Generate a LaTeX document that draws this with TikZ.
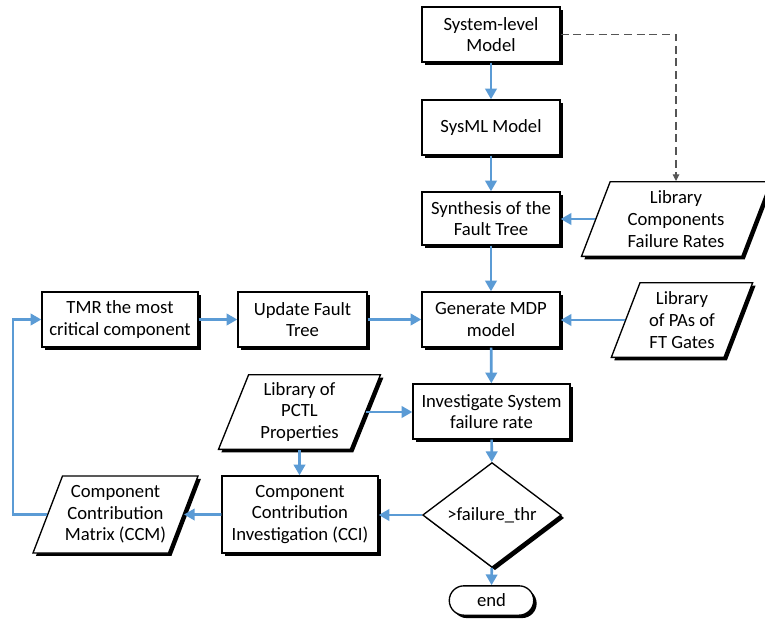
\documentclass[tikz,border=0pt]{standalone}
\usepackage{fontspec}
\setmainfont{Carlito}
\usetikzlibrary{shapes.geometric,shapes.misc,shadows,arrows.meta}
\definecolor{flowblue}{RGB}{91,155,213}
\definecolor{dashgray}{RGB}{85,85,85}

\begin{document}
\begin{tikzpicture}[x=0.75pt,y=-0.75pt,
		font=\fontsize{14}{16.2}\selectfont,
		boxshadow/.style={drop shadow={shadow xshift=2.2pt,shadow yshift=-2.2pt,fill=black,opacity=1}},
		proc/.style={rectangle,draw,line width=1pt,fill=white,boxshadow,align=center,inner sep=1pt,minimum height=41.25pt},
		data/.style={trapezium,trapezium left angle=63,trapezium right angle=117,trapezium stretches body,
			draw,line width=1pt,fill=white,boxshadow,align=center,inner xsep=-7pt,inner ysep=0pt,minimum height=56pt},
		decision/.style={diamond,draw,line width=1pt,fill=white,boxshadow,inner sep=0pt,minimum width=104pt,minimum height=57pt},
		terminal/.style={rounded rectangle,draw,line width=1pt,fill=white,boxshadow,minimum width=70pt,minimum height=22pt},
		flow/.style={draw=flowblue,line width=2pt,-{Triangle[length=8pt,width=8.5pt]}},
		dashflow/.style={draw=dashgray,line width=0.8pt,dash pattern=on 6pt off 3.5pt,-{Triangle[length=5pt,width=5pt]}}]
		\useasboundingbox (0,0) rectangle (765,625);
		% main column
		\node[proc,minimum width=103.5pt] (sysmodel) at (491,34.5) {System-level\\Model};
		\node[proc,minimum width=103.5pt] (sysml) at (491,127.5) {SysML Model};
		\node[proc,minimum width=103.5pt,minimum height=39.75pt] (synth) at (491,218.5) {Synthesis of the\\Fault Tree};
		\node[proc,minimum width=103.5pt] (mdp) at (491,319.5) {Generate MDP\\model};
		\node[proc,minimum width=117.75pt] (invsys) at (491.5,411.5) {Investigate System\\failure rate};
		\node[decision] (thr) at (492,515) {>failure\_thr};
		\node[terminal] (finish) at (491.5,600.5) {end};
		% feedback row
		\node[proc,minimum width=117pt] (tmr) at (120,319.5) {TMR the most\\critical component};
		\node[proc,minimum width=96.75pt] (upft) at (302.5,319.5) {Update Fault\\Tree};
		\node[proc,minimum width=117pt,minimum height=57.75pt] (cci) at (300,514.5) {Component\\Contribution\\Investigation (CCI)};
		% libraries
		\node[data,minimum width=141.75pt] (libcomp) at (676,219) {Library\\Components\\Failure Rates};
		\node[data,minimum width=106pt] (libpa) at (682,320) {Library\\of PAs of\\FT Gates};
		\node[data,minimum width=121.5pt] (libpctl) at (299.5,412) {Library of\\PCTL\\Properties};
		\node[data,minimum width=123.75pt,minimum height=57.75pt] (ccm) at (115.5,514.5) {Component\\Contribution\\Matrix (CCM)};
		\coordinate (loopx) at (13,420);
		
		\draw[flow] (sysmodel) -- (sysml);
		\draw[flow] (sysml) -- (synth);
		\draw[flow] (synth) -- (mdp);
		\draw[flow] (mdp) -- (invsys);
		\draw[flow] (invsys) -- (thr);
		\draw[flow] (thr) -- (finish);
		\draw[flow] (thr.west) -- (thr.west -| cci.east);
		\draw[flow] (cci.west) -- (ccm.east);
		\draw[flow] (ccm.west) -| (loopx) |- (tmr.west);
		\draw[flow] (tmr) -- (upft);
		\draw[flow] (upft) -- (mdp);
		\draw[flow] (libpa.west) -- (libpa.west -| mdp.east);
		\draw[flow] (libcomp.west) -- (libcomp.west -| synth.east);
		\draw[flow] (libpctl.east) -- (libpctl.east -| invsys.west);
		\draw[flow] (libpctl.south) -- (libpctl.south |- cci.north);
		\draw[dashflow] (sysmodel.east) -| (libcomp);
	\end{tikzpicture}
\end{document}
